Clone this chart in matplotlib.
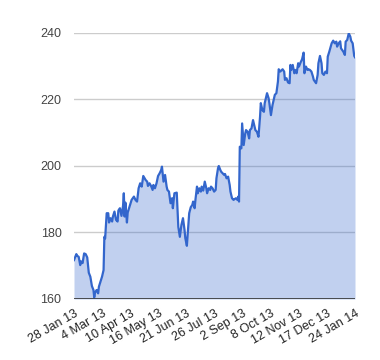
import matplotlib
matplotlib.use("Agg")
import matplotlib.pyplot as plt
import matplotlib.dates as mdates
import pandas as pd
import numpy as np

plt.rcParams['font.family'] = ['Liberation Sans', 'DejaVu Sans']

start_date = "2013-01-28"
day_offsets = [0, 3, 4, 6, 8, 9, 11, 13, 15, 17, 19, 21, 23, 25, 26, 27, 29, 31, 32, 34,
               36, 38, 39, 40, 42, 44, 45, 47, 49, 50, 52, 54, 56, 57, 59, 61, 63, 64, 65, 66,
               68, 69, 72, 74, 77, 79, 81, 83, 85, 87, 89, 90, 92, 94, 95, 97, 99, 101, 102, 104,
               106, 108, 110, 112, 113, 115, 117, 119, 120, 122, 124, 126, 127, 129, 132, 134, 136, 138, 140, 142,
               143, 145, 148, 150, 152, 153, 155, 156, 158, 159, 161, 163, 164, 166, 168, 170, 171, 173, 175, 176,
               178, 180, 182, 183, 185, 186, 188, 189, 191, 193, 194, 196, 198, 200, 201, 203, 205, 206, 208, 210,
               211, 212, 213, 215, 216, 218, 220, 221, 223, 225, 226, 228, 230, 232, 233, 235, 237, 239, 240, 242,
               244, 245, 248, 250, 251, 253, 255, 257, 258, 260, 262, 263, 265, 268, 270, 271, 273, 275, 277, 278,
               279, 281, 283, 284, 286, 288, 289, 291, 293, 295, 296, 298, 300, 301, 303, 305, 307, 308, 311, 313,
               314, 316, 318, 319, 321, 323, 325, 326, 328, 330, 331, 333, 335, 337, 338, 340, 342, 343, 346, 348,
               349, 351, 353, 355, 356, 358, 360, 361]
prices = [171.7, 173.5, 173.0, 172.7, 170.2, 171.3, 170.8, 173.7, 173.5, 172.5,
          167.9, 166.7, 163.9, 162.7, 160.5, 161.9, 162.7, 161.7, 163.7, 165.2,
          166.7, 168.7, 178.7, 178.2, 185.8, 185.8, 183.0, 184.3, 183.3, 184.8,
          186.3, 183.8, 183.3, 186.6, 187.3, 185.0, 188.0, 191.8, 184.8, 189.0,
          183.0, 186.0, 188.3, 189.8, 190.8, 189.8, 189.3, 193.3, 194.8, 193.8,
          197.0, 196.6, 195.8, 195.3, 194.0, 194.8, 194.0, 192.8, 194.3, 193.3,
          194.8, 197.0, 197.8, 198.8, 199.8, 195.3, 197.3, 193.8, 192.8, 192.3,
          188.8, 190.3, 187.3, 191.8, 192.0, 181.7, 178.7, 182.3, 184.3, 180.8,
          178.3, 176.0, 185.8, 187.6, 188.3, 189.3, 187.3, 189.8, 193.8, 191.8,
          193.3, 192.3, 193.8, 192.6, 195.3, 193.3, 191.8, 193.3, 192.8, 193.8,
          193.3, 192.3, 192.8, 196.3, 199.3, 200.0, 198.8, 198.3, 197.8, 197.3,
          197.6, 196.3, 196.8, 194.3, 192.3, 190.3, 189.8, 190.0, 190.3, 189.8,
          190.8, 189.3, 205.8, 205.3, 212.8, 206.3, 209.8, 210.8, 210.3, 208.3,
          210.8, 211.3, 213.8, 211.8, 210.8, 210.3, 208.8, 214.8, 218.9, 216.8,
          216.3, 218.9, 221.9, 220.4, 218.9, 215.3, 218.3, 220.4, 221.4, 221.9,
          225.4, 229.1, 228.4, 229.1, 228.4, 225.9, 226.4, 225.1, 224.9, 230.4,
          228.9, 230.4, 227.9, 228.9, 227.9, 230.9, 229.9, 231.1, 232.1, 234.1,
          227.9, 229.9, 228.9, 229.1, 228.9, 228.4, 226.9, 225.9, 224.9, 227.4,
          230.9, 233.1, 230.9, 227.9, 227.4, 228.4, 227.9, 232.9, 234.4, 236.1,
          236.9, 237.7, 236.9, 237.4, 235.9, 236.9, 237.5, 235.4, 234.4, 233.4,
          237.4, 237.9, 239.9, 238.9, 237.7, 236.9, 233.1, 232.7]

tick_dates = ["2013-01-28", "2013-03-04", "2013-04-08", "2013-05-13", "2013-06-17",
              "2013-07-22", "2013-08-26", "2013-09-30", "2013-11-04", "2013-12-09", "2014-01-13"]
tick_labels = ["28 Jan 13", "4 Mar 13", "10 Apr 13", "16 May 13", "21 Jun 13", "26 Jul 13",
               "2 Sep 13", "8 Oct 13", "12 Nov 13", "17 Dec 13", "24 Jan 14"]
y_ticks = [160, 180, 200, 220, 240]

dates = pd.Timestamp(start_date) + pd.to_timedelta(day_offsets, unit="D")
end_date = pd.Timestamp(start_date) + pd.Timedelta(days=day_offsets[-1])
tick_pos = pd.date_range(start_date, end_date, periods=len(tick_labels))

fig = plt.figure(figsize=(3.8, 3.6), dpi=100)
ax = fig.add_axes([74/380, 61/360, 281/380, 266/360])

line_color = "#3366cc"
ax.fill_between(dates, prices, 160, color=line_color, alpha=0.3, linewidth=0)
ax.plot(dates, prices, color=line_color, linewidth=1.6, solid_joinstyle='round')

ax.set_xlim(dates[0], dates[-1])
ax.set_ylim(160, 240)
ax.set_yticks(y_ticks)
ax.set_yticklabels([str(v) for v in y_ticks])
for v in y_ticks[1:]:
    ax.axhline(v, color="#cccccc", linewidth=1, zorder=0)
ax.axhline(160, color="#333333", linewidth=1.2, zorder=3)

ax.set_xticks(tick_pos)
ax.set_xticklabels(tick_labels, rotation=30, ha='right', va='top', rotation_mode='anchor')

for s in ax.spines.values():
    s.set_visible(False)
ax.tick_params(axis='both', length=0, labelsize=9, labelcolor="#444444")
ax.tick_params(axis='y', pad=9)
ax.tick_params(axis='x', pad=6, labelcolor="#222222")
ax.set_facecolor("white")

fig.savefig("out.png", dpi=100)
